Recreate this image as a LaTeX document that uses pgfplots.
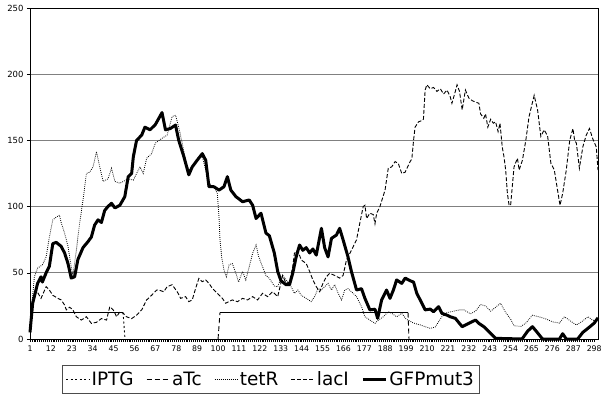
\documentclass[border=0pt]{standalone}
\usepackage{fontspec}
\setmainfont{DejaVu Sans}
\usepackage{pgfplots}
\pgfplotsset{compat=1.18}
\begin{document}
\begin{tikzpicture}
\begin{axis}[
  scale only axis, width=568bp, height=331bp,
  xmin=1, xmax=300, ymin=0, ymax=250,
  xtick={1,12,...,298}, ytick={0,50,...,250},
  minor x tick num=10,
  ymajorgrids, major grid style={black!50, line width=0.8bp},
  axis line style={black, line width=0.8bp},
  tick align=outside, major tick length=3bp, minor tick length=2.5bp,
  tick style={black, line width=0.5bp},
  xtick pos=bottom, ytick pos=left,
  /pgf/number format/assume math mode=true,
  yticklabel style={font=\fontsize{8.5}{10}\selectfont},
  xticklabel style={font=\fontsize{7.8}{9}\selectfont},
  clip=false,
  legend style={at={(0.424,-0.08)}, anchor=north, legend columns=-1,
    draw=black!70, line width=0.6bp, font=\fontsize{18.5}{22}\selectfont, inner xsep=3bp, inner ysep=4bp,
    /tikz/every even column/.append style={column sep=10.5bp}},
  legend image code/.code={\draw[#1] (0bp,0bp) -- (23bp,0bp);},
]
\coordinate (bl) at (rel axis cs:0,0);
\coordinate (tr) at (rel axis cs:1,1);
\addlegendimage{black, line width=0.9bp, dash pattern=on 2bp off 2.5bp}
\addlegendimage{black, line width=0.9bp, dash pattern=on 5bp off 3bp}
\addlegendimage{black, line width=0.8bp, dash pattern=on 0.8bp off 1.2bp}
\addlegendimage{black, line width=0.9bp, dash pattern=on 4bp off 2bp}
\addlegendimage{black, line width=3bp}
% IPTG
\addplot[black, line width=1.2bp, forget plot] coordinates {(1,20) (50,20)};
\addplot[black, line width=0.9bp, dash pattern=on 2bp off 2.5bp, forget plot] coordinates {(50,20) (51,0)};
% aTc
\addplot[black, line width=0.9bp, dash pattern=on 5bp off 3bp, forget plot] coordinates {(100,0) (101,20)};
\addplot[black, line width=1.2bp, forget plot] coordinates {(101,20) (200,20)};
\addplot[black, line width=0.9bp, dash pattern=on 5bp off 3bp, forget plot] coordinates {(200,20) (200.5,0)};
% tetR
\addplot[black, line width=0.8bp, dash pattern=on 0.8bp off 1.2bp, forget plot] coordinates {
(1,10) (3.3,47) (5,53.5) (7.5,56) (9.5,62) (11.2,77) (13,90) (14.8,92) (16.5,93.6) (17.4,88) (19.2,80) (21,70) (22.7,54.6) (23.6,48) (25.4,67) (27.1,87) (28.9,105) (30.7,125) (32.4,126) (34.2,130) (36,141.5) (37.7,130) (39.5,119) (42.1,121) (43.9,129) (45.7,119) (48.3,117.6) (50.1,119) (52.7,121) (55.4,120) (57.1,125) (58.9,130) (60.6,125) (62.4,136.5) (65,140) (67,148) (70.5,151.6) (73.2,154) (75.8,168) (77.6,169) (79.3,160) (81.1,148) (82.9,135) (84.6,127.6) (86.4,130) (89,136.5) (91.7,137.7) (93.5,127.6) (95.2,117.6) (97.8,115) (99.6,110) (100.5,92) (101,75) (101.9,62) (103.1,52) (104.4,47) (105.8,56) (107.5,57) (109.4,49.6) (110.8,43) (112.9,51) (114.6,44.6) (116.4,54.6) (118.2,64.7) (120,71) (121.4,62) (123.4,54.6) (125.2,48) (127,45.8) (129.6,40) (131.4,39.5) (132.3,43) (134,48) (136.7,43) (138.4,39.5) (140.2,34.5) (142,37) (143.8,33) (146.4,30.7) (149,28.2) (150.8,32) (152.6,38) (154.4,37) (156.1,39.5) (157.9,42) (159.7,37) (161.4,41) (163.2,34.5) (165,29.5) (166.7,37) (168.4,38) (171.1,34.5) (172.9,32) (175.5,24.4) (177.3,16.8) (179.9,14.3) (182.6,11.8) (184.4,14.3) (187,16.8) (189.6,20.6) (191.4,19.4) (194,16.8) (196.7,19.4) (199,15) (203,12) (206.4,10.6) (211.7,8) (214.3,9) (217.8,16.8) (220.5,20) (224,21) (227,22) (229.4,22) (232.9,19) (235.5,21) (238.2,26) (240.8,25) (243.5,21) (246.1,24) (248.7,27) (251.4,20) (254,15) (255.8,10) (259.4,9.5) (262,12) (265.5,18) (268.2,17) (271.7,15.6) (276.1,13) (279.7,12) (282.3,16.8) (285.1,14) (288.6,10.6) (291.3,13) (294.8,16.8) (297.3,14) (300,15)
};
% lacI
\addplot[black, line width=0.9bp, dash pattern=on 4bp off 2bp, forget plot] coordinates {
(1,8) (2.4,25) (4.3,37) (6.8,30.7) (9.5,39.5) (11.2,37) (13,33) (15.7,30.7) (17.4,29.5) (19.2,25.7) (20.1,22) (21.9,24) (23.6,22) (25.4,16.8) (28,14.3) (30.7,16.8) (33.3,11.8) (36,12.6) (38.6,15.4) (41.3,14.3) (43,24.4) (44.8,22) (46.6,16.8) (48.3,20.6) (50.1,19.4) (51.8,16.8) (54.5,15.4) (57.1,18) (59.8,22) (62.4,29.5) (65,33) (67.7,37) (68.8,37) (71.4,35.7) (73.2,39.5) (75.8,41) (78.5,35.7) (80.3,30.7) (82.9,32) (84.6,28.2) (86.4,29.5) (88.2,38.3) (89.9,45.8) (91.7,43.3) (93.5,44.6) (95.2,42) (97,38.3) (99.6,34.5) (102.3,30.7) (104,27) (107.5,29.5) (110.2,28.2) (112.9,30.7) (115.5,29.5) (118.2,32) (120.8,29.5) (123.4,34.5) (126.1,32) (128.7,35.7) (131.4,32) (134,48) (135.8,42) (137.6,43) (139.3,54.6) (140.2,64.7) (141.9,67) (143.8,59.7) (146.4,57) (148.2,51) (149.9,44.6) (151.7,39.5) (153.5,35.7) (155.2,42) (157,47) (158.8,49.6) (161.4,48) (164,46) (165.8,48) (167.6,59.7) (170.2,67) (172.9,75) (174.6,87.4) (176.4,100) (177.3,101) (178.2,91) (179.9,95) (181.7,94) (182.6,87) (183.5,95) (185.2,100) (187.9,112.5) (189.6,129) (191.4,130) (193.2,134) (194.9,132.5) (196.7,125) (198.5,126) (201.1,134) (202,136) (202.9,150) (203.7,160) (205.5,164) (207.3,165) (208.1,166) (209,188) (209.9,192) (211.7,189) (213.4,190) (215.2,187) (217,189) (218.7,185) (220.5,188) (222.2,183) (223.1,178) (224.9,187) (225.8,192) (227.1,187) (228.5,173) (230.2,188) (232,182) (233.8,180) (235.5,179) (237.3,178) (238.2,170) (239.9,166.7) (240.8,170) (242,160) (243.5,166) (244.9,163) (246.1,164) (247.4,156.6) (248.4,163) (249.6,145) (250.5,137.7) (251.4,127.6) (252.3,110) (253.2,101) (254,101) (255.8,130) (257.6,136.5) (258.5,127.6) (260.2,135) (262,150) (263.7,168) (266.4,184) (268.2,173) (269.9,153) (271.7,158) (273.5,153) (275.2,132.7) (277,127.6) (278.7,112.5) (280,101) (281.4,110) (283.3,127.6) (285.1,150) (286.8,159) (287.7,150) (288.6,148) (290.2,129) (292,145) (293.8,154) (295.5,159) (297.3,151) (299.1,145) (300,127.6)
};
% GFPmut3
\addplot[black, line width=3bp, line join=round, forget plot] coordinates {
(1,5) (2.4,27) (5,42) (6.8,47) (7.5,43) (9.5,50) (11.2,55) (13,72) (14.8,73) (17.4,70) (19.2,65) (21,57) (22.7,46) (24.5,47) (26.2,60) (28.9,69) (31.5,73.5) (33.3,77) (35,86) (36.8,90) (38.6,88) (40.3,97) (42,100) (43.9,102.5) (45.7,99) (48.3,101) (50.9,107.5) (52.7,122.6) (54.5,125) (55.4,137.7) (57.1,150) (59.8,154) (61.5,160) (64.2,158) (67,162) (70.5,171) (72.3,158) (74.9,159) (77.6,161.6) (79.3,150) (82,137.7) (84.6,124) (86.4,130) (89,135) (91.7,140) (93.5,135) (95.2,115) (97.8,115) (100.5,112.5) (103.1,115) (104.9,122.6) (106.7,112.5) (109.4,107.5) (112.9,103.7) (116.4,105) (118.2,101) (120,91) (122.6,95) (125.2,80) (127,78) (129.6,65) (131.4,51) (133.1,44) (135.8,41) (137.6,41) (139.3,49.6) (141.1,62) (142.9,71) (144.6,67) (146.4,69) (148.2,65) (149.9,68) (151.7,63.4) (154.4,83.6) (156.1,69) (157.9,62) (159.7,76) (162.3,78.5) (164,83.6) (165.8,75) (168.4,62) (170.2,51) (172.9,37) (175.5,38) (177.3,30.7) (179.9,22) (182.6,22.5) (184,15.6) (186.1,29.5) (188.7,37) (190.5,30.7) (192.3,37) (194,44.6) (196.7,42) (198.5,46) (201.1,44) (202.9,43) (204.6,34.5) (207.3,27) (209,22) (211.7,22.6) (213.4,20.6) (216.1,24.4) (217.8,19.4) (220.5,18) (222.2,16.8) (224.9,15.6) (228.5,9.3) (232,11.8) (235.5,14.3) (237.3,11.8) (239.9,9.3) (243.5,4.3) (246.1,0.5) (260,0) (263,6) (265.5,9.3) (268,5) (270.8,0) (279.7,0) (281.4,4) (283.3,0) (289.3,0) (292,5) (295.5,9) (298,12) (300,16)
};
\legend{IPTG, aTc, tetR, lacI, GFPmut3}
\end{axis}
\path ([xshift=-30bp,yshift=-64bp]bl) rectangle ([xshift=8bp,yshift=8bp]tr);
\end{tikzpicture}
\end{document}
